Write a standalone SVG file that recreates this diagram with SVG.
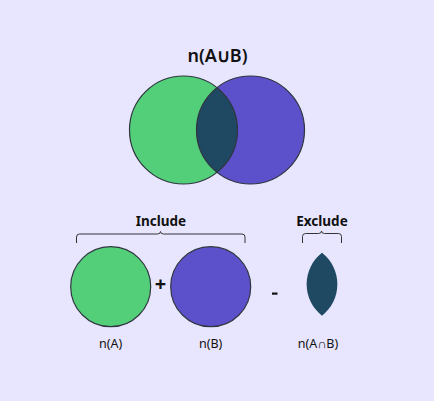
<svg xmlns="http://www.w3.org/2000/svg" width="434" height="401" viewBox="0 0 434 401">
<style>
.bg{fill:#E8E6FE}
.a{fill:#53CF7A}
.b{fill:#5C50CB}
.ab{fill:#1F4862}
.ol{fill:none;stroke:#2f3640;stroke-width:1.2}
.t{font-family:"Noto Sans","Open Sans",sans-serif;fill:#111}
.title{font-size:18px;font-weight:600}
.hd{font-size:13.5px;font-weight:700}
.lb{font-size:12.5px}
.op{font-size:20px;font-weight:700}
.br{fill:none;stroke:#333;stroke-width:1}
</style>
<rect class="bg" x="0" y="0" width="434" height="401"/>
<g id="union">
<text class="t title" x="217.5" y="62" text-anchor="middle">n(A∪B)</text>
<circle class="a" cx="183.5" cy="130" r="54"/>
<circle class="b" cx="250.5" cy="130" r="54"/>
<path class="ab" d="M217,87.65 A54,54 0 0,1 217,172.35 A54,54 0 0,1 217,87.65 Z"/>
<circle class="ol" cx="183.5" cy="130" r="54"/>
<circle class="ol" cx="250.5" cy="130" r="54"/>
</g>
<g id="include">
<text class="t hd" x="161" y="225.5" text-anchor="middle">Include</text>
<path class="br" d="M76.5,243 V237 Q76.5,234 79.5,234 H157.5 Q160.5,234 160.5,231.5 Q160.5,234 163.5,234 H242 Q245,234 245,237 V243"/>
</g>
<g id="nA">
<circle class="a" cx="110.7" cy="286.7" r="40"/>
<circle class="ol" cx="110.7" cy="286.7" r="40"/>
<text class="t lb" x="110.7" y="348" text-anchor="middle">n(A)</text>
</g>
<g id="plus">
<text class="t op" x="160.5" y="291" text-anchor="middle">+</text>
</g>
<g id="nB">
<circle class="b" cx="210.7" cy="286.7" r="40"/>
<circle class="ol" cx="210.7" cy="286.7" r="40"/>
<text class="t lb" x="210.7" y="348" text-anchor="middle">n(B)</text>
</g>
<g id="minus">
<rect x="272" y="292.5" width="5.5" height="2.2" fill="#111"/>
</g>
<g id="exclude">
<text class="t hd" x="322" y="225.5" text-anchor="middle">Exclude</text>
<path class="br" d="M302.5,243 V236.5 Q302.5,233.5 305.5,233.5 H318.5 Q321.5,233.5 321.5,231 Q321.5,233.5 324.5,233.5 H338.5 Q341.5,233.5 341.5,236.5 V243"/>
</g>
<g id="nAB">
<path class="ab" d="M322,252.7 A40,40 0 0,1 322,315.7 A40,40 0 0,1 322,252.7 Z"/>
<text class="t lb" x="318" y="348" text-anchor="middle">n(A∩B)</text>
</g>
</svg>
